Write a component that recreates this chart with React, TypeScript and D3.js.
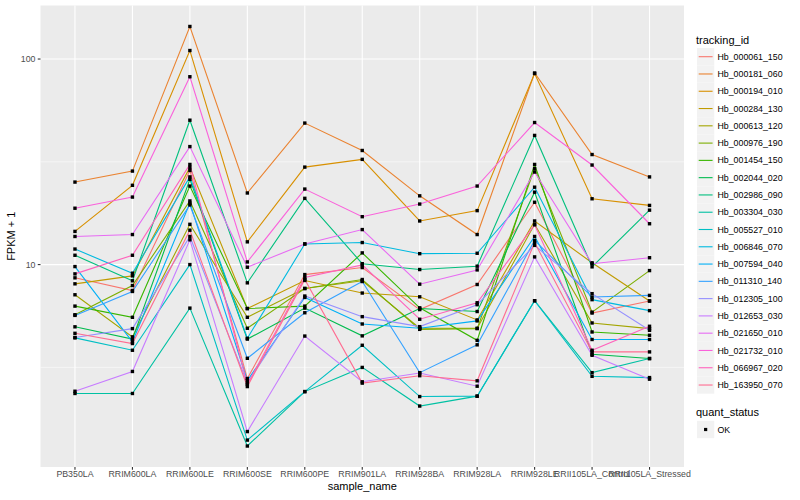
import React, { useEffect, useRef } from "react";
import * as d3 from "d3";

// sample order on the x axis
const samples = [
  "PB350LA", "RRIM600LA", "RRIM600LE", "RRIM600SE", "RRIM600PE", "RRIM901LA",
  "RRIM928BA", "RRIM928LA", "RRIM928LE", "RRII105LA_Control", "RRII105LA_Stressed",
];

const trackingIds = [
  "Hb_000061_150", "Hb_000181_060", "Hb_000194_010", "Hb_000284_130", "Hb_000613_120",
  "Hb_000976_190", "Hb_001454_150", "Hb_002044_020", "Hb_002986_090", "Hb_003304_030",
  "Hb_005527_010", "Hb_006846_070", "Hb_007594_040", "Hb_011310_140", "Hb_012305_100",
  "Hb_012653_030", "Hb_021650_010", "Hb_021732_010", "Hb_066967_020", "Hb_163950_070",
];

// ggplot default hue palette, 20 levels
const hueColors = [
  "#F8766D", "#EA8331", "#D89000", "#C09B00", "#A3A500", "#7CAE00", "#39B600", "#00BB4E",
  "#00BF7D", "#00C1A3", "#00BFC4", "#00BAE0", "#00B0F6", "#35A2FF", "#9590FF", "#C77CFF",
  "#E76BF3", "#FA62DB", "#FF62BC", "#FF6C91",
];

// FPKM + 1 per sample
const hb000061 = [8.62, 7.48, 28.7, 2.79, 8.94, 9.67, 6.04, 8.0, 20.1, 5.81, 6.65];
const hb000181 = [25.2, 28.5, 144, 22.3, 48.8, 35.9, 21.6, 14.0, 85.5, 34.3, 26.7];
const hb000194 = [14.5, 24.3, 110, 12.9, 29.8, 32.5, 16.3, 18.3, 85.0, 20.9, 19.4];
const hb000284 = [8.06, 8.81, 29.7, 6.11, 8.37, 7.27, 6.97, 5.38, 16.3, 10.2, 6.65];
const hb000613 = [7.13, 4.45, 15.7, 5.54, 7.65, 8.34, 4.9, 4.9, 15.7, 5.2, 4.88];
const hb000976 = [5.7, 7.91, 20.4, 4.9, 7.65, 8.46, 4.84, 4.88, 29.3, 5.87, 9.35];
const hb001454 = [6.28, 5.54, 24.1, 6.11, 6.28, 11.4, 6.16, 4.28, 30.7, 4.7, 4.53];
const hb002044 = [4.98, 4.34, 26.0, 4.34, 6.14, 4.5, 6.11, 5.91, 22.5, 3.66, 3.49];
const hb002986 = [11.1, 8.34, 50.4, 8.15, 21.0, 10.1, 9.46, 9.82, 42.5, 9.75, 18.4];
const hb003304 = [2.36, 2.36, 6.14, 1.31, 2.41, 3.16, 2.05, 2.29, 6.67, 2.98, 3.49];
const hb005527 = [4.4, 3.83, 10.0, 1.4, 2.41, 4.05, 2.28, 2.29, 6.67, 2.86, 2.82];
const hb006846 = [11.9, 9.08, 26.7, 4.38, 12.6, 12.8, 11.3, 11.35, 23.8, 6.75, 5.97];
const hb007594 = [9.78, 4.21, 19.9, 2.73, 6.92, 5.14, 4.9, 5.32, 13.7, 4.32, 4.32];
const hb011310 = [5.66, 7.4, 19.5, 3.5, 5.83, 8.27, 2.98, 4.07, 13.1, 6.95, 7.08];
const hb012305 = [4.42, 4.88, 13.7, 2.65, 7.03, 5.58, 4.99, 6.38, 12.4, 7.22, 4.79];
const hb012653 = [2.42, 3.02, 13.2, 1.54, 4.49, 2.69, 2.97, 2.56, 10.9, 3.62, 2.77];
const hb021650 = [13.7, 14.0, 37.5, 9.71, 12.6, 14.8, 8.03, 9.42, 28.2, 10.1, 10.8];
const hb021732 = [18.8, 21.3, 82.0, 10.3, 23.3, 17.1, 19.7, 24.1, 49.1, 30.5, 15.8];
const hb066967 = [9.01, 11.1, 30.7, 2.61, 8.65, 9.97, 5.42, 6.52, 15.6, 3.83, 5.01];
const hb163950 = [4.63, 4.13, 14.7, 2.55, 8.46, 2.65, 2.88, 2.72, 12.8, 3.76, 3.76];

const seriesValues = [
  hb000061, hb000181, hb000194, hb000284, hb000613, hb000976, hb001454, hb002044,
  hb002986, hb003304, hb005527, hb006846, hb007594, hb011310, hb012305, hb012653,
  hb021650, hb021732, hb066967, hb163950,
];

const yTicks = [10, 100];
const yMinor = [Math.sqrt(10), Math.sqrt(1000)];
const quantStatus = ["OK"];

const W = 800;
const H = 500;
const FONT = "'Liberation Sans', Arial, Helvetica, sans-serif";

export default function App() {
  const ref = useRef<SVGSVGElement>(null);

  useEffect(() => {
    const svg = d3.select(ref.current);
    svg.selectAll("*").remove();

    const panel = { left: 40.5, right: 684, top: 5.5, bottom: 467 };

    const x = d3.scalePoint<string>()
      .domain(samples)
      .range([panel.left, panel.right])
      .padding(0.6);

    // log extent expanded by 5% like ggplot
    const all = seriesValues.flat();
    const lo = Math.log10(d3.min(all)!);
    const hi = Math.log10(d3.max(all)!);
    const pad = (hi - lo) * 0.05;
    const y = d3.scaleLog()
      .domain([Math.pow(10, lo - pad), Math.pow(10, hi + pad)])
      .range([panel.bottom, panel.top]);

    // panel background
    svg.append("rect")
      .attr("x", panel.left).attr("y", panel.top)
      .attr("width", panel.right - panel.left).attr("height", panel.bottom - panel.top)
      .attr("fill", "#EBEBEB");

    const grid = svg.append("g");
    grid.selectAll("line.minor")
      .data(yMinor)
      .join("line")
      .attr("x1", panel.left).attr("x2", panel.right)
      .attr("y1", d => y(d)).attr("y2", d => y(d))
      .attr("stroke", "#fff").attr("stroke-width", 0.55);
    grid.selectAll("line.majy")
      .data(yTicks)
      .join("line")
      .attr("x1", panel.left).attr("x2", panel.right)
      .attr("y1", d => y(d)).attr("y2", d => y(d))
      .attr("stroke", "#fff").attr("stroke-width", 1.1);
    grid.selectAll("line.majx")
      .data(samples)
      .join("line")
      .attr("x1", d => x(d)!).attr("x2", d => x(d)!)
      .attr("y1", panel.top).attr("y2", panel.bottom)
      .attr("stroke", "#fff").attr("stroke-width", 1.1);

    const line = d3.line<number>()
      .x((_, i) => x(samples[i])!)
      .y(d => y(d));

    svg.append("g")
      .selectAll("path")
      .data(seriesValues)
      .join("path")
      .attr("d", d => line(d))
      .attr("fill", "none")
      .attr("stroke", (_, i) => hueColors[i])
      .attr("stroke-width", 1.1);

    const pts = seriesValues.flatMap(vals => vals.map((v, i) => ({ s: samples[i], v })));
    svg.append("g")
      .selectAll("rect")
      .data(pts)
      .join("rect")
      .attr("x", d => x(d.s)! - 1.7)
      .attr("y", d => y(d.v) - 1.7)
      .attr("width", 3.4).attr("height", 3.4)
      .attr("fill", "#000");

    // axes
    const axisG = svg.append("g").attr("font-family", FONT);
    axisG.selectAll("line.xt")
      .data(samples)
      .join("line")
      .attr("x1", d => x(d)!).attr("x2", d => x(d)!)
      .attr("y1", panel.bottom).attr("y2", panel.bottom + 2.75)
      .attr("stroke", "#333").attr("stroke-width", 1.1);
    axisG.selectAll("text.xl")
      .data(samples)
      .join("text")
      .attr("x", d => x(d)!)
      .attr("y", panel.bottom + 9.5)
      .attr("text-anchor", "middle")
      .attr("font-size", 8.8)
      .attr("fill", "#4D4D4D")
      .text(d => d);
    axisG.selectAll("line.yt")
      .data(yTicks)
      .join("line")
      .attr("x1", panel.left - 2.75).attr("x2", panel.left)
      .attr("y1", d => y(d)).attr("y2", d => y(d))
      .attr("stroke", "#333").attr("stroke-width", 1.1);
    axisG.selectAll("text.yl")
      .data(yTicks)
      .join("text")
      .attr("x", panel.left - 5)
      .attr("y", d => y(d) + 3.1)
      .attr("text-anchor", "end")
      .attr("font-size", 8.8)
      .attr("fill", "#4D4D4D")
      .text(d => String(d));

    axisG.append("text")
      .attr("x", (panel.left + panel.right) / 2)
      .attr("y", 490)
      .attr("text-anchor", "middle")
      .attr("font-size", 11)
      .attr("fill", "#000")
      .text("sample_name");
    axisG.append("text")
      .attr("transform", `translate(15,${(panel.top + panel.bottom) / 2}) rotate(-90)`)
      .attr("text-anchor", "middle")
      .attr("font-size", 11)
      .attr("fill", "#000")
      .text("FPKM + 1");

    // legend
    const key = 17.28;
    const lx = 697;
    const leg = svg.append("g").attr("font-family", FONT);
    leg.append("text")
      .attr("x", lx - 1).attr("y", 43.5)
      .attr("font-size", 11).attr("fill", "#000")
      .text("tracking_id");
    const rows = leg.selectAll("g.row")
      .data(trackingIds)
      .join("g")
      .attr("transform", (_, i) => `translate(${lx},${56.7 + i * key - key / 2})`);
    rows.append("rect")
      .attr("width", key).attr("height", key)
      .attr("fill", "#F2F2F2");
    rows.append("line")
      .attr("x1", 1.7).attr("x2", key - 1.7)
      .attr("y1", key / 2).attr("y2", key / 2)
      .attr("stroke", (_, i) => hueColors[i])
      .attr("stroke-width", 1.1);
    rows.append("text")
      .attr("x", key + 3.2).attr("y", key / 2 + 3.1)
      .attr("font-size", 8.8).attr("fill", "#000")
      .text(d => d);

    leg.append("text")
      .attr("x", lx - 1).attr("y", 415.5)
      .attr("font-size", 11).attr("fill", "#000")
      .text("quant_status");
    const qrows = leg.selectAll("g.q")
      .data(quantStatus)
      .join("g")
      .attr("transform", (_, i) => `translate(${lx},${429.5 + i * key - key / 2})`);
    qrows.append("rect")
      .attr("width", key).attr("height", key)
      .attr("fill", "#F2F2F2");
    qrows.append("rect")
      .attr("x", key / 2 - 1.6).attr("y", key / 2 - 1.6)
      .attr("width", 3.2).attr("height", 3.2)
      .attr("fill", "#000");
    qrows.append("text")
      .attr("x", key + 3.2).attr("y", key / 2 + 3.1)
      .attr("font-size", 8.8).attr("fill", "#000")
      .text(d => d);
  }, []);

  return (
    <svg
      ref={ref}
      width={W}
      height={H}
      style={{ position: "absolute", left: 0, top: 0, background: "#fff" }}
    />
  );
}
